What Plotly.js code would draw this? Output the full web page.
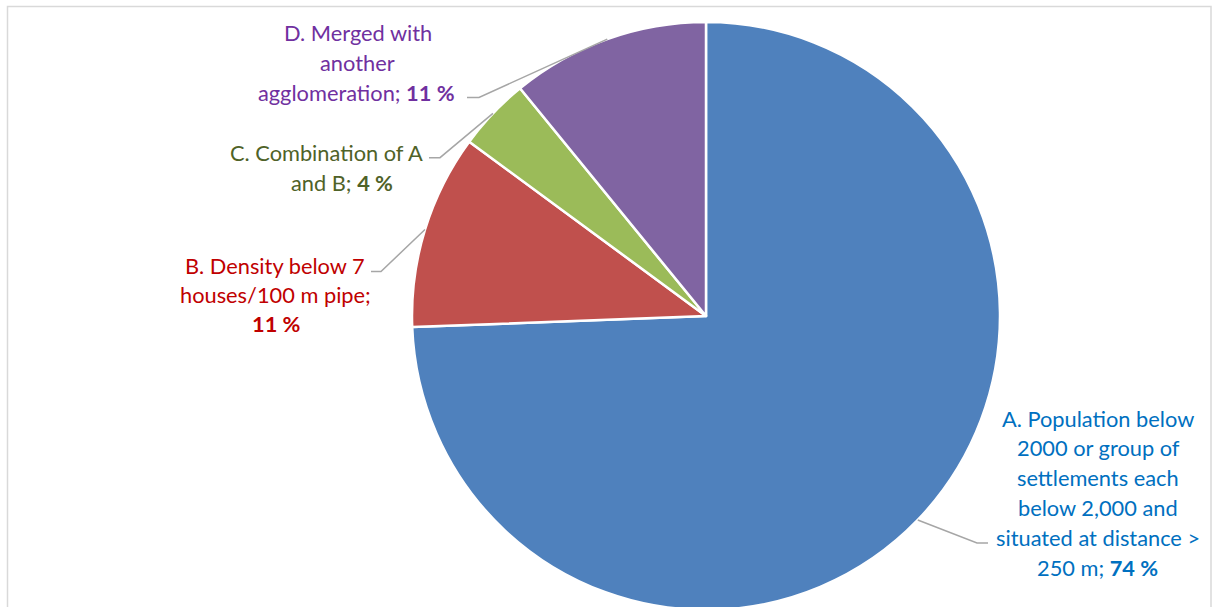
<!DOCTYPE html>
<html><head><meta charset="utf-8">
<script src="https://cdn.plot.ly/plotly-3.0.1.min.js"></script>
<style>html,body{margin:0;padding:0;overflow:hidden;background:#fff}#chart{width:1213px;height:640px}</style>
</head><body><div id="chart"></div>
<script>
// ---- data ----
const categories = [
  "A. Population below 2000 or group of settlements each below 2,000 and situated at distance > 250 m",
  "B. Density below 7 houses/100 m pipe",
  "C. Combination of A and B",
  "D. Merged with another agglomeration"
];
const values = [74.4, 10.7, 4.0, 10.9];
const sliceColors = ["#4F81BD", "#C0504D", "#9BBB59", "#8064A2"];
const labelColors = ["#0070C0", "#C00000", "#4F6228", "#7030A0"];
const labelLines = [
  ["A. Population below", "2000 or group of", "settlements each", "below 2,000 and", "situated at distance >", "250 m;"],
  ["B. Density below 7", "houses/100 m pipe;", ""],
  ["C. Combination of A", "and B;"],
  ["D. Merged with", "another", "agglomeration;"]
];

// ---- layout geometry ----
const W = 1213, H = 640;
const cx = 706, cy = 316, R = 294;
const FONT = "Lato, 'Noto Sans', sans-serif";
const FS = 21.8;
// per-label line positions (center x, first line y, line step), and leader stub
const labelPos = [
  {x: [1098,1098.5,1097.5,1097.5,1098,1097.5], y0: 418, dy: 29.8, stub: [[988,543],[977,543]]},
  {x: [274.5,275,276.5], y0: 265, dy: 29, stub: [[371,271.5],[381,271.5]]},
  {x: [326.5,341.5], y0: 152, dy: 31, stub: [[429,157.7],[440,157.7]]},
  {x: [358,357.5,356.5], y0: 32, dy: 30, stub: [[467,97.5],[479,97.5]]}
];

const px = x => x / W;
const py = y => 1 - y / H;

const total = values.reduce((a, b) => a + b, 0);
const annotations = [];
const shapes = [];
let cum = 0;
values.forEach((v, i) => {
  const mid = 2 * Math.PI * (cum + v / 2) / total;
  cum += v;
  const ex = cx + R * Math.sin(mid), ey = cy - R * Math.cos(mid);
  const lp = labelPos[i];
  const lines = labelLines[i].slice();
  const last = lines.length - 1;
  const pct = "<b>" + Math.round(v) + " %</b>";
  lines[last] = lines[last] ? lines[last] + " " + pct : pct;
  lines.forEach((t, j) => {
    annotations.push({
      x: px(lp.x[j]), y: py(lp.y0 + j * lp.dy), xref: "paper", yref: "paper",
      xanchor: "center", yanchor: "middle", showarrow: false, text: t,
      font: {family: FONT, size: FS, color: labelColors[i]}
    });
  });
  const [s0, s1] = lp.stub;
  shapes.push({
    type: "path", xref: "paper", yref: "paper",
    path: `M ${px(s0[0])} ${py(s0[1])} L ${px(s1[0])} ${py(s1[1])} L ${px(ex)} ${py(ey)}`,
    line: {color: "#A6A6A6", width: 1.5}
  });
});
// chart border
shapes.push({type: "rect", xref: "paper", yref: "paper",
  x0: px(7.5), x1: px(1211), y0: py(700), y1: py(6.5),
  line: {color: "#D9D9D9", width: 1.5}, fillcolor: "rgba(0,0,0,0)", layer: "below"});

const trace = {
  type: "pie", labels: categories, values: values, sort: false,
  direction: "clockwise", rotation: 0, textinfo: "none", hoverinfo: "none",
  marker: {colors: sliceColors, line: {color: "#FFFFFF", width: 2.5}},
  domain: {x: [(cx - R) / W, (cx + R) / W], y: [py(cy + R), py(cy - R)]},
  showlegend: false
};
Plotly.newPlot("chart", [trace], {
  width: W, height: H, margin: {l: 0, r: 0, t: 0, b: 0},
  paper_bgcolor: "#FFFFFF", plot_bgcolor: "#FFFFFF",
  annotations: annotations, shapes: shapes, showlegend: false
}, {staticPlot: true});
</script></body></html>
